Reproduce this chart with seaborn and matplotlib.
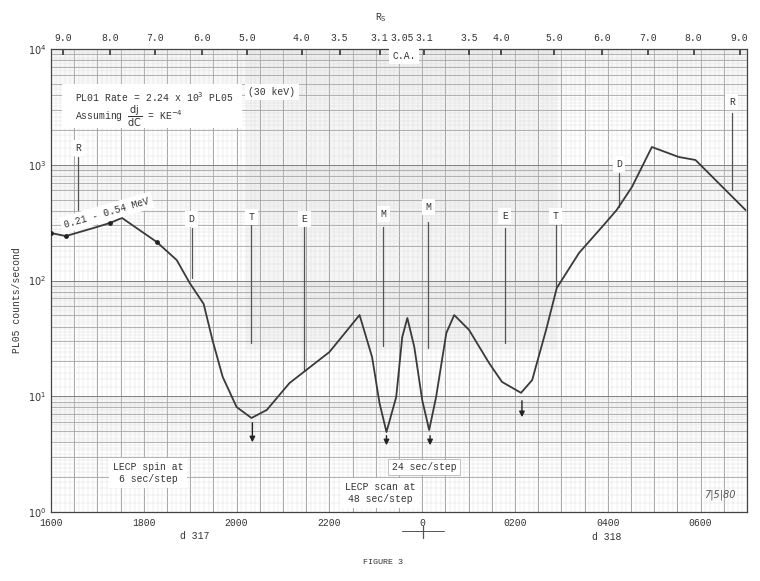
import numpy as np
import pandas as pd
import matplotlib
matplotlib.use("Agg")
import matplotlib.pyplot as plt
import seaborn as sns

# ---------------- data ----------------
hours = [16.00, 16.32, 16.99, 17.27, 17.53, 18.28, 18.71, 18.99, 19.29, 19.48,
         19.70, 20.00, 20.32, 20.65, 21.14, 22.00, 22.65, 22.92, 23.08, 23.23,
         23.44, 23.57, 23.68, 23.83, 24.00, 24.15, 24.30, 24.52, 24.69, 25.01,
         25.44, 25.72, 26.13, 26.37, 26.67, 26.90, 27.38, 27.91, 28.19, 28.52,
         28.95, 29.53, 29.89, 30.32, 30.97]
rates = [257, 242, 290, 314, 347, 215, 150, 95, 62.7, 30.6,
         14.7, 8.07, 6.49, 7.61, 13.0, 24.1, 50.3, 21.8, 8.74, 4.91,
         9.86, 32.5, 47.4, 26.6, 9.28, 5.11, 9.86, 35.2, 50.3, 37.4,
         19.4, 13.3, 10.7, 13.8, 37.4, 86.1, 173, 301, 406, 642,
         1423, 1167, 1099, 739, 406]
dot_hours = [16.00, 16.32, 17.27, 18.28]
dot_rates = [257, 242, 314, 215]

x_ticks = [16, 18, 20, 22, 24, 26, 28, 30]
x_labels = ["1600", "1800", "2000", "2200", "0", "0200", "0400", "0600"]

rs_hours = [16.26, 17.27, 18.24, 19.25, 20.22, 21.40, 22.22, 23.08, 23.57,
            24.04, 25.01, 25.70, 26.84, 27.87, 28.86, 29.85, 30.84]
rs_labels = ["9.0", "8.0", "7.0", "6.0", "5.0", "4.0", "3.5", "3.1", "3.05",
             "3.1", "3.5", "4.0", "5.0", "6.0", "7.0", "8.0", "9.0"]

# region markers: label, hour, label level, line top, line bottom
mk_labels = ["R", "D", "T", "E", "M", "M", "E", "T", "D", "R"]
mk_hours = [16.58, 19.03, 20.32, 21.46, 23.16, 24.13, 25.78, 26.88, 28.24, 30.67]
mk_text_y = [1396, 340, 354, 340, 376, 432, 361, 361, 1016, 3484]
mk_top = [1167, 284, 314, 302, 290, 320, 284, 302, 849, 2800]
mk_bot = [406, 105, 28.8, 16.9, 27.2, 26.1, 28.8, 87.9, 432, 605]

arrow_hours = [20.34, 23.23, 24.17, 26.15]
arrow_top = [6.24, 4.82, 4.82, 9.66]
arrow_bot = [3.79, 3.57, 3.57, 6.24]

df = pd.DataFrame({"hour": hours, "rate": rates})

# ---------------- style ----------------
sns.set_style("white")
plt.rcParams["font.family"] = ["Liberation Mono", "DejaVu Sans Mono"]
plt.rcParams["mathtext.fontset"] = "dejavusans"

W, H = 760, 581
fig = plt.figure(figsize=(W / 100, H / 100), dpi=100)
L, R, T, B = 51, 747, 49, 512
ax = fig.add_axes([L / W, 1 - B / H, (R - L) / W, (B - T) / H])

def fx(px):
    return px / W

def fy(py):
    return 1 - py / H

ax.set_yscale("log")
ax.set_xlim(16, 31)
ax.set_ylim(1, 1e4)

# graph-paper grid
ink = "#555555"
ax.axvspan(20.2, 26.9, ymin=0.35, ymax=1.0, color="#f5f5f5", lw=0, zorder=0)
for xv in np.arange(16, 31.001, 0.1):
    ax.axvline(xv, color="#dadada", lw=0.3, zorder=0)
for xv in np.arange(16, 31.001, 0.5):
    ax.axvline(xv, color="#9a9a9a", lw=0.6, zorder=0)
for dec in [1, 10, 100, 1000]:
    for m in np.arange(1.2, 10, 0.2):
        ax.axhline(dec * m, color="#dadada", lw=0.3, zorder=0)
    for m in range(2, 10):
        ax.axhline(dec * m, color="#a0a0a0", lw=0.55, zorder=0)
    ax.axhline(dec, color="#808080", lw=0.7, zorder=0)

# curve
sns.lineplot(data=df, x="hour", y="rate", ax=ax, color="#3a3a3a",
             lw=1.3, zorder=5, legend=False)
ax.scatter(dot_hours, dot_rates, s=6, color="#222222", zorder=6)

# region marker lines and labels
box = dict(boxstyle="square,pad=0.35", fc="white", ec="none")
for lab, xh, ty, y0, y1 in zip(mk_labels, mk_hours, mk_text_y, mk_top, mk_bot):
    ax.plot([xh, xh], [y1, y0], color=ink, lw=0.9, zorder=4)
    ax.text(xh, ty, lab, ha="center", va="center", fontsize=7,
            color="#333333", bbox=box, zorder=7)

# arrows at minima
for xh, y0, y1 in zip(arrow_hours, arrow_top, arrow_bot):
    ax.annotate("", xy=(xh, y1), xytext=(xh, y0),
                arrowprops=dict(arrowstyle="-|>", color="#222222", lw=1.0,
                                mutation_scale=8), zorder=7)

# ticks
ax.set_xticks(x_ticks)
ax.set_xticklabels(x_labels)
ax.set_yticks([1, 10, 100, 1000, 10000])
ax.set_yticklabels([r"$10^0$", r"$10^1$", r"$10^2$", r"$10^3$", r"$10^4$"])
ax.yaxis.set_minor_locator(matplotlib.ticker.NullLocator())
ax.tick_params(axis="both", labelsize=7, colors="#333333", length=3,
               direction="in")
ax.tick_params(axis="x", pad=4)
for s in ax.spines.values():
    s.set_color("#444444")
    s.set_linewidth(0.9)
ax.set_xlabel("")
ax.set_ylabel("")

top = ax.secondary_xaxis("top")
top.set_xticks(rs_hours)
top.set_xticklabels(rs_labels)
top.tick_params(labelsize=7, colors="#333333", length=4, direction="in",
                width=1.2, pad=4)
top.spines["top"].set_visible(False)

# text annotations
tc = "#333333"
fig.text(fx(381), fy(18), r"R$_\mathrm{S}$", ha="center", va="center",
         fontsize=7, color=tc)
fig.text(fx(17), fy(300), "PL05 counts/second", rotation=90, ha="center",
         va="center", fontsize=7, color=tc)
ax.text(17.2, 385, "0.21 - 0.54 MeV", rotation=16, ha="center",
        va="center", fontsize=7, color=tc, bbox=box, zorder=7)
fig.text(fx(404), fy(56), "C.A.", ha="center", va="center", fontsize=7,
         color=tc, bbox=box)
fig.patches.append(matplotlib.patches.Rectangle(
    (fx(62), fy(128)), fx(180), (128 - 84) / H, transform=fig.transFigure,
    fc="white", ec="none", zorder=3))
fig.text(fx(75), fy(97), r"PL01 Rate = 2.24 x 10$^3$ PL05", ha="left",
         va="center", fontsize=7, color=tc, zorder=4)
fig.text(fx(75), fy(116),
         r"Assuming $\dfrac{\mathrm{dj}}{\mathrm{dC}}$ = KE$^{-4}$",
         ha="left", va="center", fontsize=7, color=tc, zorder=4)
fig.text(fx(272), fy(92), "(30 keV)", ha="center", va="center", fontsize=7,
         color=tc, bbox=box, zorder=4)
fig.text(fx(148), fy(473), "LECP spin at\n6 sec/step", ha="center",
         va="center", fontsize=7, color=tc, bbox=box, linespacing=1.3)
fig.text(fx(380), fy(493), "LECP scan at\n48 sec/step", ha="center",
         va="center", fontsize=7, color=tc, bbox=box, linespacing=1.3)
fig.text(fx(424), fy(467), "24 sec/step", ha="center", va="center",
         fontsize=7, color=tc,
         bbox=dict(boxstyle="square,pad=0.35", fc="white", ec="#aaaaaa",
                   lw=0.5))
fig.text(fx(195), fy(536), "d 317", ha="center", va="center", fontsize=7,
         color=tc)
fig.text(fx(607), fy(537), "d 318", ha="center", va="center", fontsize=7,
         color=tc)
fig.text(fx(383), fy(562), "FIGURE 3", ha="center", va="center",
         fontsize=6, color=tc)
fig.text(fx(720), fy(495), "7|5|80", ha="center", va="center", fontsize=7,
         color="#555555", family="DejaVu Sans", style="italic")
# time-origin marker under axis
fig.add_artist(matplotlib.lines.Line2D([fx(402), fx(444)], [fy(531), fy(531)],
                                       color="#555555", lw=0.7))
fig.add_artist(matplotlib.lines.Line2D([fx(423), fx(423)], [fy(526), fy(538)],
                                       color="#555555", lw=0.9))

fig.savefig("out.png", dpi=100, facecolor="white")
